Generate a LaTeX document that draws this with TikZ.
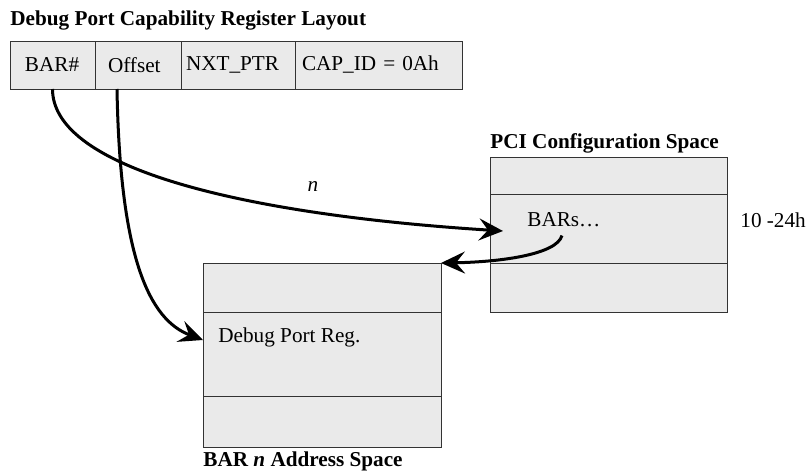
\documentclass[tikz,border=0pt]{standalone}
\usepackage{fontspec}
\setmainfont{Liberation Serif}
\usepackage{xcolor}
\definecolor{boxgray}{HTML}{EAEAEA}
\definecolor{edgegray}{HTML}{333333}
\usepackage{tikz}
\usetikzlibrary{arrows.meta,positioning,calc}

\begin{document}
\begin{tikzpicture}[x=0.5pt,y=-0.5pt,
  font=\fontsize{10.6}{12}\selectfont,
  cell/.style={draw=edgegray,fill=boxgray,line width=0.5pt,outer sep=0pt,minimum height=24pt,inner ysep=0pt,align=left,anchor=west},
  row/.style={draw=edgegray,fill=boxgray,line width=0.5pt,outer sep=0pt,inner sep=0pt,minimum width=#1,anchor=north west},
  txt/.style={anchor=west,inner sep=0pt},
  ttl/.style={anchor=west,inner sep=0pt,font=\fontsize{10.6}{12}\selectfont\bfseries},
  ar/.style={-{Stealth[length=12pt,width=11pt,inset=4.5pt]},line width=1.5pt}
]
\useasboundingbox (0,0) rectangle (808,471);

% register layout
\node[cell,text width=27.5pt,inner xsep=7.5pt] (barnum) at (10,65) {BAR\#};
\node[cell,text width=30pt,inner xsep=6.5pt,right=0pt of barnum] (offset) {Offset};
\node[cell,text width=52pt,inner xsep=2.5pt,right=0pt of offset] (nxtptr) {NXT\_PTR};
\node[cell,text width=76.5pt,inner xsep=3.5pt,right=0pt of nxtptr] (capid) {CAP\_ID = 0Ah};
\node[ttl] (regttl) at ($(barnum.north west)+(0,-21)$) {Debug Port Capability Register Layout};

% PCI configuration space
\node[row=118.5pt,minimum height=18.5pt] (pcia) at (490,157) {};
\node[row=118.5pt,minimum height=34.5pt,below=0pt of pcia] (pcib) {};
\node[row=118.5pt,minimum height=24.5pt,below=0pt of pcib] (pcic) {};
\node[ttl] (pcittl) at ($(pcia.north west)+(0,-14)$) {PCI Configuration Space};
\node[txt] (barstxt) at ($(pcib.north west)+(37,26)$) {BARs…};
\node[txt] (offstxt) at ($(pcib.east)+(13,-8)$) {10 -24h};

% BAR n address space
\node[row=119pt,minimum height=24.5pt] (bara) at (203,263) {};
\node[row=119pt,minimum height=42pt,below=0pt of bara] (barb) {};
\node[row=119pt,minimum height=25.5pt,below=0pt of barb] (barc) {};
\node[txt] (dbgtxt) at ($(barb.north west)+(15,25)$) {Debug Port Reg.};
\node[ttl] (barttl) at ($(barc.south west)+(0,14)$) {BAR \textit{n} Address Space};

% connectors
\coordinate (bartip) at ($(barstxt.west)+(-24,11)$);
\coordinate (offout) at ($(offset.south west)+(22,0)$);
\coordinate (dbgtip) at ($(barb.north west)+(0,28)$);
\coordinate (barsout) at ($(barstxt.south)+(-2,8)$);
\draw[ar] (barnum.south) .. controls +(0,81) and +(-253,-16) .. node[pos=0.73,above=6pt] {\textit{n}} (bartip);
\draw[ar] (offout) .. controls +(3,171) and +(-53,-20) .. (dbgtip);
\draw[ar] (barsout) .. controls +(-5,19) and +(59,-1) .. (bara.north east);
\end{tikzpicture}
\end{document}
